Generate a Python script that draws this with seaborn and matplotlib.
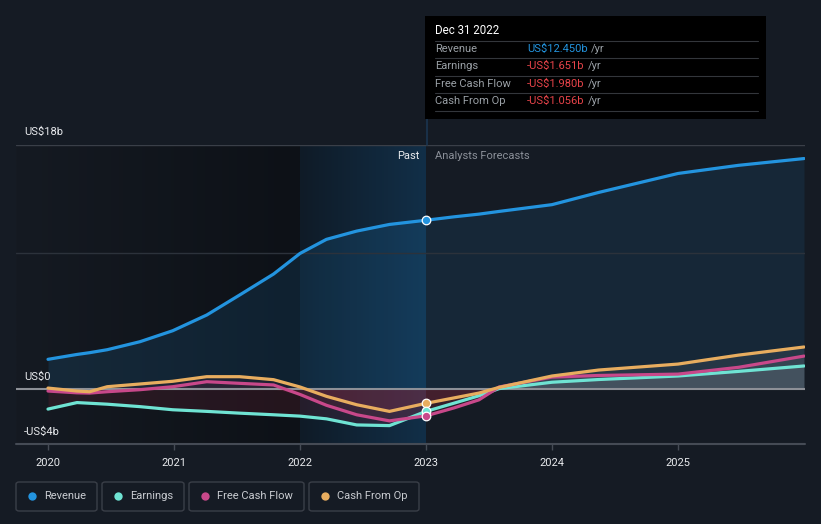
import numpy as np
import pandas as pd
import matplotlib
matplotlib.use("Agg")
import matplotlib.pyplot as plt
from matplotlib.patches import FancyBboxPatch, Rectangle
from matplotlib.lines import Line2D
import seaborn as sns

# ---------------- data (US$ billions) ----------------
years = [2020.0, 2020.23, 2020.33, 2020.47, 2020.73, 2020.99, 2021.26, 2021.52,
         2021.79, 2022.0, 2022.21, 2022.45, 2022.71, 2023.0, 2023.22, 2023.42,
         2023.58, 2024.0, 2024.37, 2025.0, 2025.48, 2026.0]
revenue = [2.19, 2.55, 2.68, 2.9, 3.49, 4.3, 5.46, 6.93, 8.48, 10.0, 11.04, 11.65,
           12.14, 12.45, 12.7, 12.9, 13.1, 13.6, 14.5, 15.9, 16.5, 17.0]
earnings = [-1.48, -1.0, -1.05, -1.12, -1.3, -1.53, -1.65, -1.78, -1.9, -2.0, -2.2,
            -2.65, -2.7, -1.651, -1.05, -0.5, 0.03, 0.5, 0.7, 0.96, 1.3, 1.7]
free_cash_flow = [-0.15, -0.28, -0.3, -0.2, -0.05, 0.17, 0.54, 0.42, 0.3, -0.4, -1.2,
                  -1.9, -2.35, -1.98, -1.4, -0.8, 0.15, 0.88, 1.0, 1.1, 1.6, 2.43]
cash_from_op = [0.07, -0.15, -0.2, 0.17, 0.37, 0.57, 0.91, 0.91, 0.69, 0.15, -0.54,
                -1.16, -1.65, -1.056, -0.66, -0.3, 0.12, 0.96, 1.4, 1.84, 2.5, 3.1]
series_names = ["Revenue", "Earnings", "Free Cash Flow", "Cash From Op"]
series_colors = ["#2394df", "#6fe3d3", "#c8488a", "#e8ad5f"]
tick_years = [2020, 2021, 2022, 2023, 2024, 2025]
tick_labels = ["2020", "2021", "2022", "2023", "2024", "2025"]
y_labels = ["US$18b", "US$0", "-US$4b"]
tooltip_date = "Dec 31 2022"
tooltip_values = ["US$12.450b", "-US$1.651b", "-US$1.980b", "-US$1.056b"]
today = 2023.0

# ---------------- figure ----------------
BG = "#151b24"
sns.set_theme(style="dark")
plt.rcParams["font.family"] = ["Roboto", "DejaVu Sans"]
fig = plt.figure(figsize=(8.21, 5.24), dpi=100, facecolor=BG)
W, H = 821, 524
def fx(px): return px / W
def fy(py): return 1 - py / H

ax = fig.add_axes([fx(16), fy(444), fx(805) - fx(16), (444 - 145) / H])
ax.set_facecolor(BG)
xmin, xmax = 2020 + (16 - 48) / 126, 2020 + (805 - 48) / 126
ymin, ymax = -(444 - 389) / 13.56, 18

# background gradients
g1 = np.linspace(0, 1, 256)[None, :]
c_a = np.array([21, 26, 34]) / 255
c_b = np.array([13, 17, 23]) / 255
img1 = (c_a[None, None, :] * (1 - g1[..., None]) + c_b[None, None, :] * g1[..., None])
ax.imshow(img1, extent=[xmin, 2022.0, ymin, ymax], aspect="auto", zorder=0.1)
c_c = np.array([15, 27, 39]) / 255
c_d = np.array([18, 47, 72]) / 255
img2 = (c_c[None, None, :] * (1 - g1[..., None]) + c_d[None, None, :] * g1[..., None])
ax.imshow(img2, extent=[2022.0, today, ymin, ymax], aspect="auto", zorder=0.1)
ax.set_xlim(xmin, xmax)
ax.set_ylim(ymin, ymax)

df = pd.DataFrame({
    "year": years * 4,
    "value": revenue + earnings + free_cash_flow + cash_from_op,
    "series": sum([[n] * len(years) for n in series_names], []),
})

yrs = np.array(years)
past = yrs <= today
fut = yrs >= today
rev = np.array(revenue)
ax.fill_between(yrs[past], 0, rev[past], color="#2394df", alpha=0.13, lw=0, zorder=1)
ax.fill_between(yrs[fut], 0, rev[fut], color="#2394df", alpha=0.10, lw=0, zorder=1)
for vals in [earnings, free_cash_flow, cash_from_op]:
    v = np.array(vals)
    ax.fill_between(yrs[past], 0, np.minimum(v[past], 0), color="#c0304a", alpha=0.13, lw=0, zorder=1.2)
    ax.fill_between(yrs[past], 0, np.maximum(v[past], 0), color="#c0304a", alpha=0.08, lw=0, zorder=1.2)
    ax.fill_between(yrs[fut], 0, np.maximum(v[fut], 0), color="#ffffff", alpha=0.07, lw=0, zorder=1.2)
    ax.fill_between(yrs[fut], 0, np.minimum(v[fut], 0), color="#c0304a", alpha=0.10, lw=0, zorder=1.2)

# grid lines
ax.axhline(18, color="#3a3f48", lw=1.0, zorder=1.5)
ax.axhline(10, color="#2c323b", lw=1.0, zorder=1.5)
ax.axhline(0, color="#8d9097", lw=1.5, zorder=2)
ax.axhline(ymin, color="#454b55", lw=1.5, zorder=2, clip_on=False)

sns.lineplot(data=df, x="year", y="value", hue="series", palette=series_colors,
             hue_order=series_names, linewidth=2.3, legend=False, ax=ax,
             estimator=None, sort=True, zorder=3)
for ln in ax.get_lines():
    ln.set_solid_joinstyle("round")
    ln.set_solid_capstyle("round")

# markers at today
idx = years.index(today)
for vals, col in zip([cash_from_op, earnings, free_cash_flow, revenue],
                     ["#e8ad5f", "#6fe3d3", "#c8488a", "#2394df"]):
    ax.scatter([today], [vals[idx]], s=38, color=col, edgecolor="white",
               linewidth=0.9, zorder=5)

# axes cosmetics
for s in ax.spines.values():
    s.set_visible(False)
ax.set_xlabel("")
ax.set_ylabel("")
ax.set_yticks([])
ax.set_xticks(tick_years)
ax.set_xticklabels(tick_labels, color="#e8eaed", fontsize=8)
ax.tick_params(axis="x", length=4, width=1, color="#454b55", pad=6, bottom=True)
ax.grid(False)

# vertical divider up to tooltip
fig.add_artist(Line2D([fx(427), fx(427)], [fy(119), fy(145)], color="#1a3550", lw=1.2))

# y labels
fig.text(fx(24), fy(132), y_labels[0], color="#e8eaed", fontsize=8, va="center")
fig.text(fx(24), fy(377), y_labels[1], color="#e8eaed", fontsize=8, va="center")
fig.text(fx(24), fy(432), y_labels[2], color="#e8eaed", fontsize=8, va="center")

# Past / forecast labels
fig.text(fx(419), fy(156), "Past", color="#e8eaed", fontsize=8, ha="right", va="center")
fig.text(fx(435), fy(156), "Analysts Forecasts", color="#8b9099", fontsize=8, ha="left", va="center")

# tooltip
fig.add_artist(Rectangle((fx(425), fy(119)), fx(766) - fx(425), (119 - 16) / H,
                         facecolor="#000000", edgecolor="none", zorder=10))
fig.text(fx(435), fy(31), tooltip_date, color="white", fontsize=8.3, va="center", zorder=11)
row_y = [49, 66, 84, 101]
for yy in [41, 58, 76, 93, 111]:
    fig.add_artist(Line2D([fx(435), fx(758)], [fy(yy), fy(yy)], color="#33363b", lw=0.8, zorder=11))
fig.canvas.draw()
r = fig.canvas.get_renderer()
for i, (name, val) in enumerate(zip(series_names, tooltip_values)):
    col = "#2394df" if not val.startswith("-") else "#e8444a"
    fig.text(fx(435), fy(row_y[i]), name, color="#9aa0a6", fontsize=8, va="center", zorder=11)
    t = fig.text(fx(527), fy(row_y[i]), val, color=col, fontsize=8, va="center", zorder=11)
    bb = t.get_window_extent(renderer=r)
    fig.text(bb.x1 / W + fx(3), fy(row_y[i]), "/yr", color="#9aa0a6", fontsize=8, va="center", zorder=11)

# legend boxes
boxes = [(16, 97), (102, 184), (189, 304), (309, 419)]
for (x0, x1), name, col in zip(boxes, series_names, series_colors):
    fig.add_artist(FancyBboxPatch((fx(x0), fy(511)), fx(x1) - fx(x0), (511 - 482) / H,
                                  boxstyle="round,pad=0,rounding_size=0.004",
                                  facecolor="none", edgecolor="#3a3f48", lw=1.0))
    fig.add_artist(Line2D([fx(x0 + 16)], [fy(496)], marker="o", markersize=6,
                          color=col, markeredgewidth=0))
    fig.text(fx(x0 + 28), fy(496), name, color="#c9ccd1", fontsize=8, va="center")

fig.savefig("out.png", dpi=100, facecolor=BG)
